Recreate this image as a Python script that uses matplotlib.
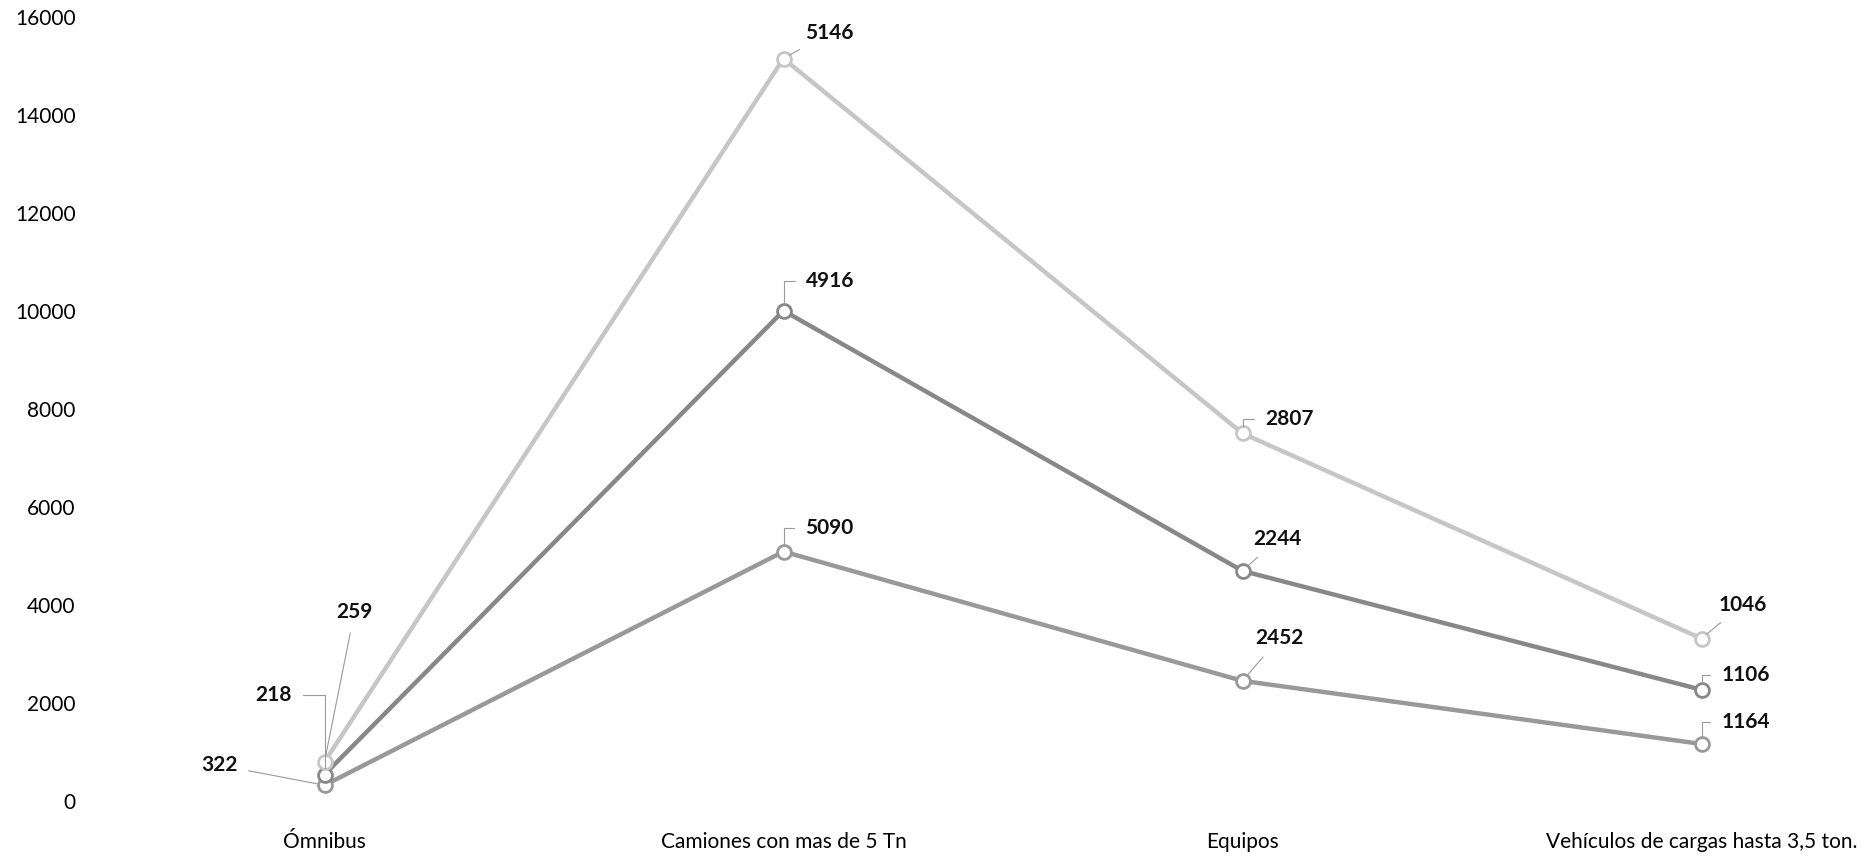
import numpy as np
import matplotlib.pyplot as plt

plt.rcParams['font.family'] = ['Lato', 'DejaVu Sans']

categorias = ["Ómnibus", "Camiones con mas de 5 Tn", "Equipos", "Vehículos de cargas hasta 3,5 ton."]
serie1 = [322, 5090, 2452, 1164]
serie2 = [218, 4916, 2244, 1106]
serie3 = [259, 5146, 2807, 1046]
yticks = [0, 2000, 4000, 6000, 8000, 10000, 12000, 14000, 16000]

# stacked line chart (cumulative values)
s1 = np.array(serie1)
s2 = s1 + np.array(serie2)
s3 = s2 + np.array(serie3)
x = np.arange(len(categorias))

fig = plt.figure(figsize=(18.69, 8.61), dpi=100)
ax = fig.add_axes([95 / 1869, 60 / 861, 1 - 95 / 1869, 784 / 861])

elbow = "angle,angleA=0,angleB=90,rad=0"
straight = "arc3"
series = [
    (s1, serie1, "#999999", [(-105, 20), (46, 24), (37, 43), (44, 22)],
     [straight, elbow, straight, elbow]),
    (s2, serie2, "#888888", [(-51, 80), (47, 30), (35, 32), (44, 15)],
     [elbow, elbow, straight, elbow]),
    (s3, serie3, "#c6c6c6", [(30, 150), (46, 26), (47, 14), (41, 34)],
     [straight, straight, elbow, straight]),
]
for ys, vals, col, offs, cons in series:
    ax.plot(x, ys, color=col, lw=3.2, marker='o', ms=10, mfc='white', mec=col, mew=2)
    for xi, yi, v, (dx, dy), cs in zip(x, ys, vals, offs, cons):
        ax.annotate(str(v), xy=(xi, yi), xytext=(dx, dy), textcoords='offset pixels',
                    ha='center', va='center', fontsize=15, fontweight='bold', color='#111111',
                    arrowprops=dict(arrowstyle='-', color='#9a9a9a', lw=0.8, shrinkA=6, shrinkB=5,
                                    connectionstyle=cs))

ax.set_xlim(-0.5, -0.5 + (1869 - 95) / 459)
ax.set_ylim(0, 16000)
ax.set_yticks(yticks)
ax.set_xticks(x)
ax.set_xticklabels(categorias, fontsize=15)
ax.tick_params(axis='y', labelsize=15, length=0, pad=14)
ax.tick_params(axis='x', length=0, pad=22)
for s in ax.spines.values():
    s.set_visible(False)

plt.savefig("out.png", dpi=100)
